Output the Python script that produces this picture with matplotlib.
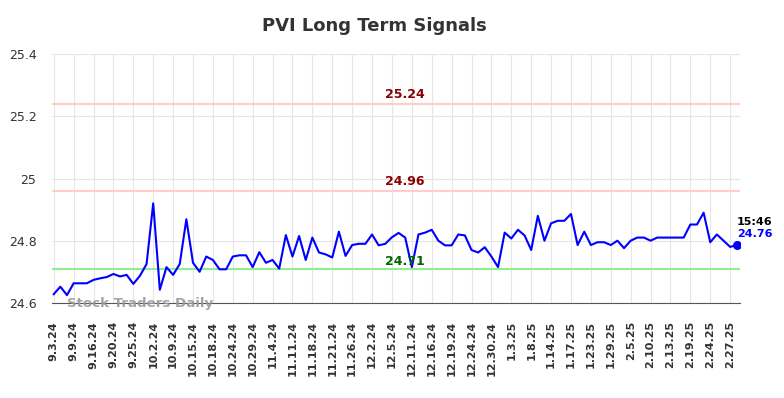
import matplotlib
matplotlib.use('Agg')

import matplotlib.pyplot as plt

# valeurs
prices = [
    24.628, 24.652, 24.625, 24.663, 24.663, 24.663, 24.674, 24.679, 24.683, 24.693,
    24.685, 24.690, 24.661, 24.687, 24.725, 24.920, 24.642, 24.715, 24.690, 24.725,
    24.869, 24.729, 24.700, 24.749, 24.738, 24.708, 24.708, 24.749, 24.753, 24.753,
    24.715, 24.763, 24.729, 24.738, 24.710, 24.818, 24.749, 24.815, 24.738, 24.810,
    24.762, 24.756, 24.746, 24.829, 24.751, 24.786, 24.790, 24.790, 24.820, 24.785,
    24.790, 24.811, 24.825, 24.810, 24.715, 24.820, 24.826, 24.835, 24.800, 24.785,
    24.785, 24.820, 24.817, 24.770, 24.762, 24.779, 24.749, 24.715, 24.826, 24.807,
    24.835, 24.817, 24.770, 24.880, 24.800, 24.856, 24.864, 24.864, 24.886, 24.786,
    24.829, 24.786, 24.795, 24.795, 24.786, 24.800, 24.776, 24.800, 24.810, 24.810,
    24.800, 24.810, 24.810, 24.810, 24.810, 24.810, 24.852, 24.852, 24.890, 24.795,
    24.820, 24.800, 24.780, 24.786,
]

tick_labels = [
    '9.3.24', '9.9.24', '9.16.24', '9.20.24', '9.25.24', '10.2.24', '10.9.24',
    '10.15.24', '10.18.24', '10.24.24', '10.29.24', '11.4.24', '11.11.24',
    '11.18.24', '11.21.24', '11.26.24', '12.2.24', '12.5.24', '12.11.24',
    '12.16.24', '12.19.24', '12.24.24', '12.30.24', '1.3.25', '1.8.25',
    '1.14.25', '1.17.25', '1.23.25', '1.29.25', '2.5.25', '2.10.25', '2.13.25',
    '2.19.25', '2.24.25', '2.27.25',
]

upper_levels = [25.24, 24.96]
lower_level = 24.71
last_time = '15:46'
last_label = '24.76'

fig = plt.figure(figsize=(7.84, 3.98), dpi=100)
ax = fig.add_axes([0.066, 0.239, 0.878, 0.625])

x = list(range(len(prices)))
ax.plot(x, prices, color='#0000ff', linewidth=1.5, zorder=3)
ax.scatter([x[-1]], [prices[-1]], color='#0000ff', s=30, zorder=4)

for level in upper_levels:
    ax.axhline(level, color='#ffcccc', linewidth=1.5, zorder=2)
    ax.text(53, level + 0.008, f'{level:.2f}', color='#8b0000', fontsize=9,
            fontweight='bold', ha='center', va='bottom')
ax.axhline(lower_level, color='#90ee90', linewidth=1.5, zorder=2)
ax.text(53, lower_level + 0.002, f'{lower_level:.2f}', color='#006400', fontsize=9,
        fontweight='bold', ha='center', va='bottom')

ax.text(x[-1], 24.86, last_time, color='black', fontsize=8, fontweight='bold',
        ha='left', va='center')
ax.text(x[-1], 24.82, last_label, color='#0000ff', fontsize=8, fontweight='bold',
        ha='left', va='center')

ax.text(2, 24.597, 'Stock Traders Daily', color='#999999', fontsize=9.6,
        fontweight='bold', ha='left', va='center', alpha=0.9, zorder=5)

ax.set_xlim(-0.3, 103.5)
ax.set_ylim(24.6, 25.4)
ax.set_yticks([24.6, 24.8, 25.0, 25.2, 25.4])
ax.set_yticklabels(['24.6', '24.8', '25', '25.2', '25.4'], fontsize=9, color='#333333')
ax.set_xticks(list(range(0, 3 * len(tick_labels), 3)))
ax.set_xticklabels(tick_labels, rotation=90, fontsize=8, fontweight='bold',
                   color='#333333')
ax.tick_params(axis='y', length=0, pad=11)
ax.tick_params(axis='x', length=0, pad=13)

ax.grid(color='#e6e6e6', linewidth=0.8, zorder=0)
for side in ['top', 'right', 'left']:
    ax.spines[side].set_visible(False)
ax.spines['bottom'].set_color('#555555')

fig.text(0.477, 0.935, 'PVI Long Term Signals', fontsize=13, fontweight='bold',
         color='#333333', ha='center', va='center')

fig.savefig('out.png', dpi=100)
plt.close(fig)
